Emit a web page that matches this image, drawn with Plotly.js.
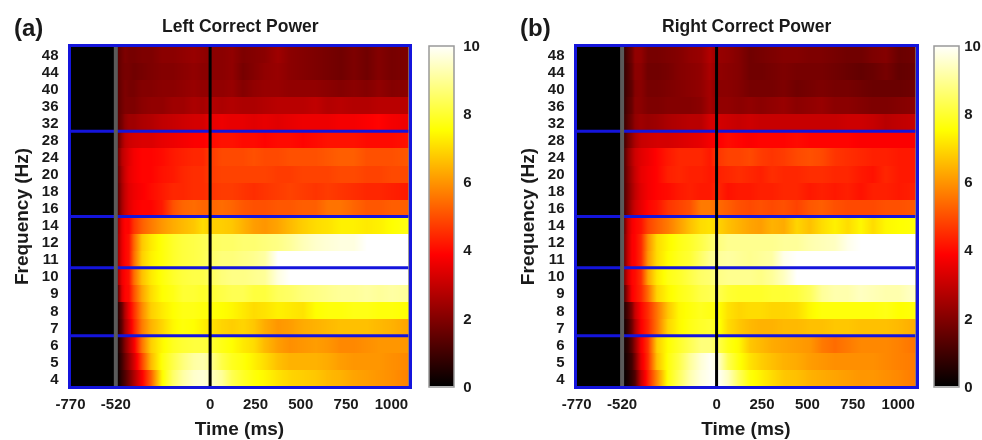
<!DOCTYPE html>
<html><head><meta charset="utf-8">
<script src="https://cdn.plot.ly/plotly-3.0.1.min.js"></script>
<style>html,body{margin:0;padding:0;background:#fff}#c{width:982px;height:440px;filter:blur(0.45px)}</style>
</head><body><div id="c"></div>
<script>
const freqLabels=['4','5','6','7','8','9','10','11','12','14','16','18','20','24','28','32','36','40','44','48'];
const times=[-770,-522,-510,-490,-470,-450,-420,-380,-330,-270,-210,-150,-90,-40,0,60,120,180,240,300,370,440,510,580,650,720,790,860,930,1000,1095];
const xTicks=[-770,-520,0,250,500,750,1000];
const bandEdges=[2.5,6.5,9.5,14.5];
const leftPower=[
[0,0,0.2,0.8,1.2,1.8,2.6,3.8,5.2,7.4,8.5,9.1,9.5,9.6,9.4,9,8.3,7.9,7.6,7.4,7.1,6.9,6.8,6.7,6.5,6.4,6.2,6.1,6,5.9,5.7],
[0,0,0.3,1,1.6,2.3,3.2,4.8,6.5,7.6,8.2,8.7,9.1,9.2,8.9,8.2,7.8,7.6,7.3,7,6.6,6.4,6.4,6.4,6.3,6.1,6,6,6,5.9,5.8],
[0,0,0.4,1.2,2,2.8,3.7,5.5,6.8,7.4,7.8,8,8.1,8.1,8,7.7,7.5,7.2,7,6.5,6.1,5.9,6,6.1,6,5.8,5.8,5.9,6,6,6],
[0,0,0.6,1.5,2.5,3.3,4.3,5.6,6.4,6.9,7.4,7.6,7.5,7.3,7.1,6.9,6.8,6.9,6.7,6.3,6,6.1,6.3,6.4,6.5,6.6,6.6,6.6,6.5,6.4,6.2],
[0,0,0.7,1.6,2.7,3.6,4.5,5.8,6.8,7.2,7.5,7.7,7.7,7.6,7.6,7.5,7.4,7.2,7,7.1,7.3,7.2,7.1,7.5,7.6,7.6,7.7,7.7,7.6,7.6,7.5],
[0,0,1.6,3.4,3.9,4,5,6.2,7,7.5,7.7,8,8,7.9,8,8.2,8.3,8.3,8.1,8.1,8.4,8.5,8.7,8.8,8.9,9,9,9.1,9,9.1,9],
[0,0,2.5,3.6,3.9,4.1,5.4,6.6,7.2,7.6,7.9,8.1,8.2,8.2,8.4,8.7,8.8,8.8,8.9,9,9.7,10,10,10,10,10,10,10,10,10,10],
[0,0,2.5,3.5,3.9,4.1,5.4,6.8,7.3,7.6,7.9,8.1,8.2,8.3,8.5,8.7,8.7,8.8,8.9,9.1,10,10,10,10,10,10,10,10,10,10,10],
[0,0,2.5,3.5,3.9,4.1,5.3,6.7,7.2,7.6,7.9,8.1,8.2,8.3,8.4,8.5,8.5,8.6,8.6,8.7,8.8,9,9.3,9.5,9.6,9.7,9.7,10,10,10,10],
[0,0,2.4,3.5,3.9,3.9,4.6,5.2,5.6,6,6.3,6.5,6.7,7,6.8,6.8,6.7,6.4,6.1,6,6.2,6.5,6.8,7,7.1,7.3,7.3,7.2,7.3,7.5,7.7],
[0,0,1.5,2.5,3,3.4,3.7,3.9,3.9,4.2,5,5.3,5.4,5.3,5.3,5.4,5.3,5.1,5,5,5.1,5.1,5.2,5.2,5.5,5.5,5.3,5.1,5.1,5.2,5.2],
[0,0,1.5,2.5,3,3.4,3.6,3.8,4,4.2,4.4,4.4,4.5,4.5,4.6,4.7,4.7,4.6,4.5,4.6,4.7,4.8,4.7,4.6,4.7,4.6,4.5,4.4,4.4,4.3,4.2],
[0,0,1.6,2.6,3.1,3.5,3.7,3.9,3.9,4.1,4.2,4.4,4.5,4.5,4.7,4.8,4.8,4.8,4.8,4.8,4.7,4.7,4.8,4.8,4.8,4.9,4.9,4.8,4.8,4.9,4.9],
[0,0,1.7,2.8,3.1,3.4,3.7,3.9,3.9,4,4.2,4.3,4.4,4.4,4.7,4.9,4.9,4.9,5,4.9,4.9,5,5,5,5.1,5.2,5.2,5,5,5,5.1],
[0,0,1.5,2.4,2.9,3.1,3.2,3.3,3.3,3.5,3.6,3.7,3.8,3.8,4,4.1,4.1,4,4,3.9,4,4,3.9,4,4.1,4.1,4.1,4,4,4,4.1],
[0,0,1.4,1.8,2.2,2.4,2.4,2.6,2.7,2.9,3,3.1,3.2,3.2,3.5,3.6,3.5,3.5,3.4,3.5,3.4,3.5,3.6,3.6,3.6,3.7,3.7,3.8,3.9,3.7,3.6],
[0,0,1.4,1.7,1.9,1.9,1.9,2.1,2.2,2.2,2.4,2.4,2.6,2.5,2.7,2.6,2.7,2.6,2.6,2.7,2.8,2.8,2.8,2.9,2.7,2.8,2.7,2.7,2.8,2.8,2.8],
[0,0,1.4,1.7,1.9,1.8,1.8,2,2,2.1,2.1,2.2,2.3,2.2,2.2,2.2,2.3,2,2.2,2.3,2.3,2.2,2.2,2.2,2.1,2,2.1,2,2.2,2,2.1],
[0,0,1.4,1.7,1.8,1.8,1.7,1.8,1.9,2,2,2.1,2.2,2.1,2.1,2.1,2.2,1.8,2,2.2,2.3,2.1,2,1.9,1.8,1.7,1.9,1.7,2,1.8,1.9],
[0,0,1.4,1.7,1.9,1.8,1.8,1.9,1.9,2.1,2.1,2.2,2.3,2.2,2.1,2.1,2.2,1.9,2,2.1,2.4,2.1,2,1.9,1.8,1.7,1.9,1.7,2,1.8,1.9]
];
const rightPower=[
[0,0,0.1,0.4,0.8,1.2,3,4.3,5.8,7.6,8.4,9.2,9.7,9.9,10,9.4,8.4,7.6,7.3,7,6.7,6.6,6.4,6.3,6.2,6.1,6,6,5.9,5.8,5.6],
[0,0,0.2,0.6,1,1.8,3.5,4.5,6.6,7.6,8.2,9,9.6,9.9,9.7,8.3,7.6,7.1,6.8,6.6,6.4,6.3,6.1,6,5.9,5.9,5.9,5.9,5.8,5.7,5.6],
[0,0,0.3,0.7,1.4,2.2,3.7,4.6,6.8,7.5,7.9,8.3,8.7,8.7,8.3,7.7,7.4,6.7,6.5,6.3,6.2,6.1,6,5.6,5.4,5.6,5.8,5.8,5.8,5.7,5.5],
[0,0,0.3,0.9,1.7,2.6,3.8,4.4,5.5,6.9,7.4,7.7,7.9,8,7.7,7,6.7,6.5,6.4,6.4,6.5,6.5,6.6,6.6,6.7,6.7,6.6,6.6,6.6,6.5,6.3],
[0,0,0.5,1.2,2,3,3.9,4.5,5.5,6.7,7.4,7.6,7.8,7.7,7.6,7.1,6.9,7,7,6.9,6.9,7,7.4,7.6,7.6,7.6,7.6,7.6,7.7,7.5,7.6],
[0,0,1.2,2.6,3.8,4,4.4,5.4,6.9,7.4,7.7,7.9,8.2,8.3,8.3,8,7.9,7.9,7.9,8,8,8.1,8.4,9,9.2,9.2,9.4,9.3,9.2,9.2,9.5],
[0,0,2,3.2,3.9,4,4.5,6.2,7.2,7.7,7.9,8.2,8.5,8.6,8.8,8.9,8.9,8.9,8.8,9,9.4,10,10,10,10,10,10,10,10,10,10],
[0,0,1.8,3,3.8,3.9,4.4,6,7,7.5,7.8,8,8.5,8.9,9,9.1,9,8.9,9,9.1,9.8,10,10,10,10,10,10,10,10,10,10],
[0,0,1.8,3,3.8,3.9,4.4,5.9,7,7.4,7.7,7.9,8.2,8.5,8.7,8.9,8.9,8.9,8.9,8.9,9,9,9.2,9.3,9.4,9.8,10,10,10,10,10],
[0,0,1.6,3,3.7,3.9,4.1,4.8,5.2,5.6,6.1,6.6,7,7.1,6.9,6.6,6.4,6.2,6.1,6.4,6.3,6.9,6.6,7,7.3,7,7.4,7,7.4,7.5,7.6],
[0,0,1.2,2,2.7,3.1,3.5,3.9,4.1,4.6,4.8,5,5.6,5.6,5.4,5.2,5,4.9,5,4.9,5,4.8,5.1,5.2,5,4.9,4.9,4.9,5,5,5.1],
[0,0,1.2,1.9,2.5,2.9,3.4,3.7,3.9,4,4.2,4.3,4.2,4.2,4.4,4.1,4.2,4.2,4.3,4.3,4.4,4.4,4.2,4.3,4.2,4.3,4.1,4.3,4.3,4.2,4.3],
[0,0,1.2,2,2.6,3,3.5,3.7,3.9,4.3,4.4,4.3,4.3,4.2,4.3,4.4,4.5,4.4,4.3,4.5,4.4,4.4,4.5,4.5,4.4,4.4,4.2,4.1,4.4,4.2,4.2],
[0,0,1.2,2.1,2.7,3.1,3.4,3.6,3.9,4.2,4.4,4.4,4.4,4.2,4.6,4.8,4.8,4.9,4.7,4.6,4.7,4.9,5,4.9,4.6,4.5,4.4,4.3,4.3,4.2,4.2],
[0,0,1,1.7,2.2,2.6,3,3.1,3.2,3.2,3.3,3.4,3.5,3.7,3.8,4,3.9,3.8,3.9,3.9,3.9,4,3.9,3.9,3.9,3.9,3.8,3.8,3.8,3.8,3.8],
[0,0,0.9,1.4,1.8,2.2,2.4,2.3,2.4,2.6,2.7,2.8,2.8,3.2,3.2,3.1,3,3.1,3,3,3,3,3,3,3,3.1,3.1,3,2.8,2.9,3],
[0,0,0.8,1.3,1.6,2.1,2.1,1.9,1.9,2,2,2,2.1,2.5,2.2,2.2,2.1,2.2,2.1,2.2,2.3,2.1,2.2,2.3,2.1,2.1,2,1.9,1.9,2,2.1],
[0,0,0.8,1.2,1.5,2,2.1,1.8,1.8,1.9,2,2.1,2.2,2.5,2.1,2.1,2,1.8,1.8,1.8,1.9,1.7,1.8,1.9,1.8,1.8,1.7,1.6,1.6,1.6,1.7],
[0,0,0.8,1.2,1.6,2.1,2.1,1.7,1.7,1.8,2,2.1,2.2,2.6,2.2,2.1,2,1.7,1.7,1.8,1.9,1.8,1.8,1.8,1.7,1.6,1.5,1.6,1.8,1.5,1.6],
[0,0,0.8,1.3,1.7,2.2,2.2,1.8,1.8,1.9,2,2.2,2.3,2.7,2.3,2.2,2,1.7,1.8,1.9,2,2,1.9,1.9,1.8,1.7,1.7,1.9,2,1.6,1.7]
];
const hot=[[0,'#000000'],[0.385,'#ff0000'],[0.75,'#ffff00'],[1,'#ffffff']];
const font='"Liberation Sans",Arial,sans-serif';
const W=982,H=440;
const yIdx=[];freqLabels.forEach((_,i)=>{yIdx.push(i-0.49,i+0.49);});
const doubled=m=>m.flatMap(r=>[r,r]);
function hm(z,xa,ya,barPx){
 return {type:'heatmap',x:times,y:yIdx,z:doubled(z),xaxis:xa,yaxis:ya,zmin:0,zmax:10,zsmooth:'best',colorscale:hot,hoverinfo:'skip',
  colorbar:{x:barPx[0]/W,xanchor:'left',xpad:0,ypad:0,y:(H-386.5)/H,yanchor:'bottom',len:341,lenmode:'pixels',thickness:25,thicknessmode:'pixels',
   outlinecolor:'#999',outlinewidth:1.5,tickvals:[0,2,4,6,8,10],ticks:'outside',ticklen:barPx[1],tickcolor:'rgba(120,120,120,0.0)',
   tickfont:{family:font,size:15,color:'#1a1a1a',weight:'bold'}}};
}
function xAxis(d,yname){return {domain:[d[0]/W,d[1]/W],range:d[2],anchor:yname,tickvals:xTicks,ticktext:xTicks.map(String),tickangle:0,
 ticks:'outside',ticklen:2,tickcolor:'rgba(0,0,0,0)',showgrid:false,zeroline:false,showline:true,mirror:true,linecolor:'#1414dc',linewidth:3,
 tickfont:{family:font,size:15,color:'#1a1a1a',weight:'bold'},
 title:{text:'Time (ms)',standoff:11,font:{family:font,size:19,color:'#1a1a1a',weight:'bold'}}};}
function yAxis(xname){return {domain:[(H-386)/H,(H-47)/H],range:[-0.44,19.44],anchor:xname,tickvals:freqLabels.map((_,i)=>i),ticktext:freqLabels,
 ticks:'outside',ticklen:6,tickcolor:'rgba(0,0,0,0)',showgrid:false,zeroline:false,showline:true,mirror:true,linecolor:'#1414dc',linewidth:3,
 tickfont:{family:font,size:15,color:'#1a1a1a',weight:'bold'},
 title:{text:'Frequency (Hz)',standoff:9,font:{family:font,size:19,color:'#1a1a1a',weight:'bold'}}};}
function marks(xr,yr){
 const s=bandEdges.map(v=>({type:'line',xref:xr,yref:yr,x0:-770,x1:1095,y0:v,y1:v,line:{color:'#1414dc',width:3}}));
 s.push({type:'line',xref:xr,yref:yr,x0:-520,x1:-520,y0:-0.5,y1:19.5,line:{color:'#5a5a5a',width:4}});
 s.push({type:'line',xref:xr,yref:yr,x0:0,x1:0,y0:-0.5,y1:19.5,line:{color:'#000',width:3}});
 return s;
}
const ann=(t,xp,yp,size,w)=>({text:t,xref:'paper',yref:'paper',x:xp/W,y:1-yp/H,xanchor:'center',yanchor:'middle',showarrow:false,
 font:{family:font,size:size,color:'#1a1a1a',weight:w}});
Plotly.newPlot('c',[hm(leftPower,'x','y',[429,6]),hm(rightPower,'x2','y2',[934,2])],{
 width:W,height:H,margin:{l:0,r:0,t:0,b:0},paper_bgcolor:'#fff',plot_bgcolor:'#000',showlegend:false,
 xaxis:xAxis([70.5,408.5,[-770,1094]],'y'),yaxis:yAxis('x'),
 xaxis2:xAxis([576.5,915.5,[-771,1095]],'y2'),yaxis2:yAxis('x2'),
 shapes:[...marks('x','y'),...marks('x2','y2')],
 annotations:[ann('Left Correct Power',240,26,17.5,'bold'),ann('Right Correct Power',746,26,17.5,'bold'),
  ann('(a)',28,28,24,'bold'),ann('(b)',535,28,24,'bold')]
},{staticPlot:true});
</script></body></html>
